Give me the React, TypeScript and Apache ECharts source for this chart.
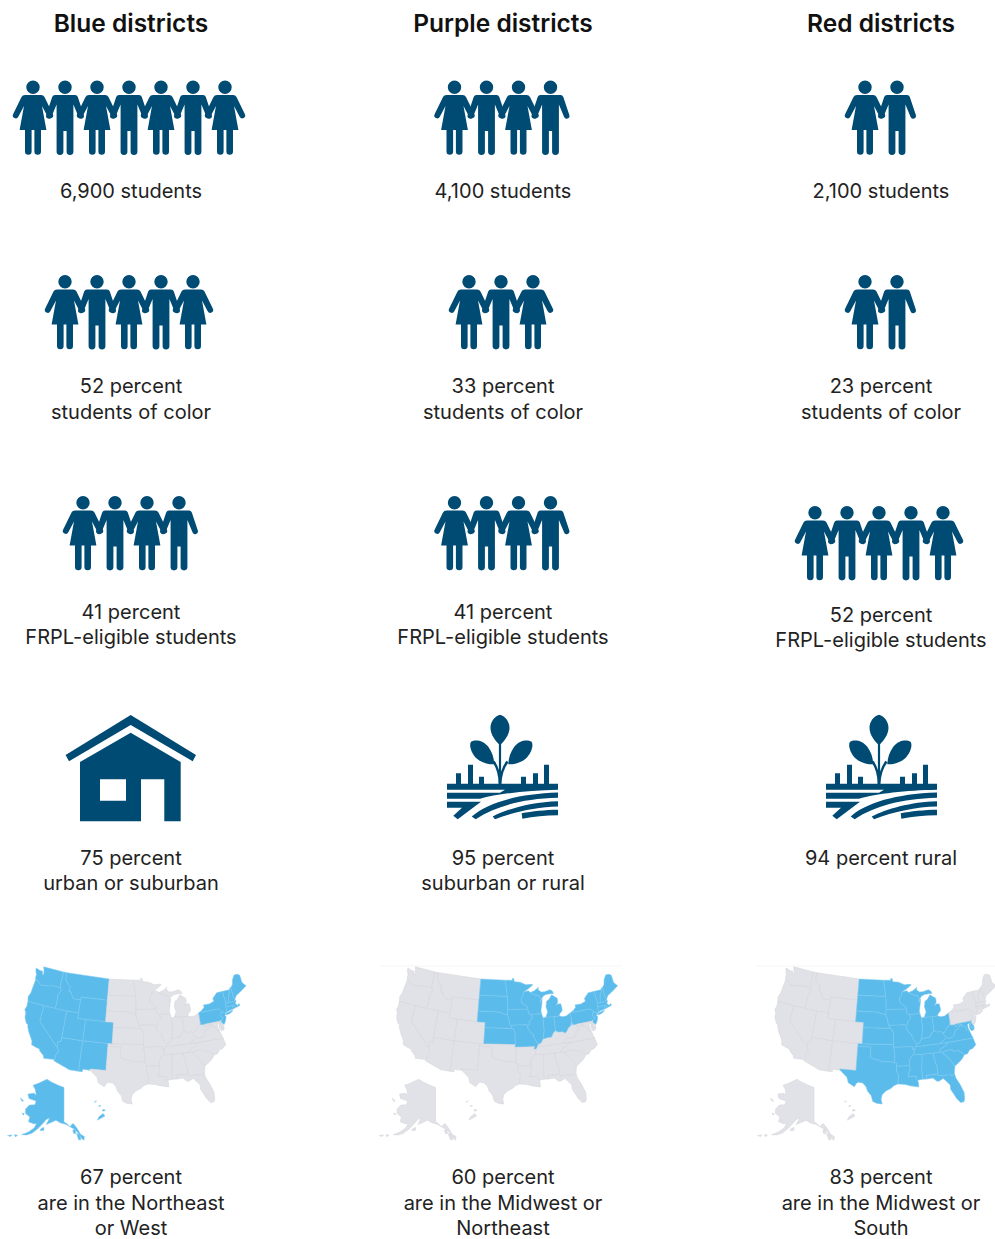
import React, { useEffect, useRef } from "react";
import * as echarts from "echarts";

const NAVY = "#004B74";
const MAP_BLUE = "#5BBCEC";
const MAP_GREY = "#E1E2E7";
const TEXT = "#222222";
const FONT = "Inter";

const columnTitles = ["Blue districts", "Purple districts", "Red districts"];
const studentCounts = [7, 4, 2];
const colorCounts = [5, 3, 2];
const frplCounts = [4, 4, 5];
const studentCaptions = ["6,900 students", "4,100 students", "2,100 students"];
const colorCaptions = ["52 percent\nstudents of color", "33 percent\nstudents of color", "23 percent\nstudents of color"];
const frplCaptions = ["41 percent\nFRPL-eligible students", "41 percent\nFRPL-eligible students", "52 percent\nFRPL-eligible students"];
const localeCaptions = ["75 percent\nurban or suburban", "95 percent\nsuburban or rural", "94 percent rural"];
const regionCaptions = ["67 percent\nare in the Northeast\nor West", "60 percent\nare in the Midwest or\nNortheast", "83 percent\nare in the Midwest or\nSouth"];

const northeast = ["PA", "NY", "NJ", "CT", "RI", "MA", "VT", "NH", "ME"];
const west = ["WA", "OR", "CA", "NV", "ID", "MT", "WY", "UT", "CO", "AZ", "NM", "AK", "HI"];
const midwest = ["ND", "SD", "NE", "KS", "MN", "IA", "MO", "WI", "IL", "MI", "IN", "OH"];
const south = ["TX", "OK", "AR", "LA", "MS", "AL", "TN", "KY", "WV", "VA", "NC", "SC", "GA", "FL", "MD", "DE"];
const highlighted = [[...northeast, ...west], [...midwest, ...northeast], [...midwest, ...south]];

type Ring = number[][];
const states: Record<string, Ring[]> = {
  WA: [[[-122.8,49],[-117.03,49],[-117.04,46.4],[-116.92,45.99],[-118.98,46],[-119.3,45.93],[-120.5,45.7],[-121.2,45.65],[-122.3,45.55],[-122.8,45.9],[-123.2,46.15],[-123.9,46.25],[-124.1,46.7],[-124.1,47.2],[-124.6,47.9],[-124.7,48.4],[-123.5,48.15],[-122.75,48.15],[-122.5,47.5],[-122.3,47.5],[-122.3,48],[-122.5,48.5]]],
  OR: [[[-123.9,46.25],[-123.2,46.15],[-122.8,45.9],[-122.3,45.55],[-121.2,45.65],[-120.5,45.7],[-119.3,45.93],[-118.98,46],[-116.92,45.99],[-116.47,45.6],[-116.85,45],[-117.2,44.4],[-117.03,44.2],[-117.03,42],[-120,42],[-124.2,42],[-124.5,42.8],[-124.1,43.7],[-124.05,44.8],[-123.95,45.6]]],
  CA: [[[-124.2,42],[-120,42],[-120,39],[-114.63,35],[-114.13,34.3],[-114.5,33.9],[-114.55,33.6],[-114.72,33.4],[-114.52,33],[-114.72,32.72],[-117.12,32.53],[-117.3,33],[-118.4,33.75],[-118.5,34.03],[-119.2,34.15],[-120.5,34.45],[-120.65,35.15],[-121.9,36.6],[-122.5,37.5],[-122.5,37.8],[-123,38],[-123.75,39],[-123.85,39.8],[-124.35,40.4],[-124.1,41]]],
  NV: [[[-120,42],[-114.04,42],[-114.04,37],[-114.04,36.2],[-114.74,36.1],[-114.63,35],[-120,39]]],
  ID: [[[-117.03,49],[-116.05,49],[-116.05,48],[-115.7,47.45],[-114.7,46.7],[-114.35,46.65],[-114.5,45.6],[-113.9,45.6],[-113.45,44.95],[-113,44.45],[-111.05,44.48],[-111.05,42],[-114.04,42],[-117.03,42],[-117.03,44.2],[-117.2,44.4],[-116.85,45],[-116.47,45.6],[-116.92,45.99],[-117.04,46.4]]],
  MT: [[[-116.05,49],[-104.05,49],[-104.05,45.94],[-104.05,45],[-111.05,45],[-111.05,44.48],[-113,44.45],[-113.45,44.95],[-113.9,45.6],[-114.5,45.6],[-114.35,46.65],[-114.7,46.7],[-115.7,47.45],[-116.05,48]]],
  WY: [[[-111.05,45],[-104.05,45],[-104.05,43],[-104.05,41],[-109.05,41],[-111.05,41],[-111.05,42],[-111.05,44.48]]],
  UT: [[[-114.04,42],[-111.05,42],[-111.05,41],[-109.05,41],[-109.05,37],[-114.04,37]]],
  CO: [[[-109.05,41],[-104.05,41],[-102.05,41],[-102.05,40],[-102.05,37],[-103,37],[-109.05,37]]],
  AZ: [[[-114.04,37],[-109.05,37],[-109.05,31.33],[-111.07,31.33],[-114.81,32.5],[-114.72,32.72],[-114.52,33],[-114.72,33.4],[-114.55,33.6],[-114.5,33.9],[-114.13,34.3],[-114.63,35],[-114.74,36.1],[-114.04,36.2]]],
  NM: [[[-109.05,37],[-103,37],[-103,36.5],[-103.04,32],[-106.62,32],[-106.53,31.78],[-108.2,31.78],[-108.2,31.33],[-109.05,31.33]]],
  ND: [[[-104.05,49],[-97.23,49],[-96.85,47.6],[-96.56,45.94],[-104.05,45.94]]],
  SD: [[[-104.05,45.94],[-96.56,45.94],[-96.45,45.3],[-96.45,43.5],[-96.5,42.5],[-97.9,42.8],[-98.5,43],[-104.05,43],[-104.05,45]]],
  NE: [[[-104.05,43],[-98.5,43],[-97.9,42.8],[-96.5,42.5],[-96.1,41.7],[-95.85,40.7],[-95.77,40.58],[-95.31,40],[-102.05,40],[-102.05,41],[-104.05,41]]],
  KS: [[[-102.05,40],[-95.31,40],[-94.9,39.8],[-94.61,39.1],[-94.62,37],[-102.05,37]]],
  OK: [[[-103,37],[-102.05,37],[-94.62,37],[-94.62,36.5],[-94.43,35.4],[-94.48,33.64],[-95.5,33.9],[-96.6,33.85],[-97.2,33.8],[-98.1,34.13],[-99.2,34.3],[-100,34.56],[-100,36.5],[-103,36.5]]],
  TX: [[[-103.04,36.5],[-100,36.5],[-100,34.56],[-99.2,34.3],[-98.1,34.13],[-97.2,33.8],[-96.6,33.85],[-95.5,33.9],[-94.48,33.64],[-94.04,33.55],[-94.04,33],[-94.04,31.99],[-93.55,31.2],[-93.7,30.5],[-93.84,29.7],[-94.7,29.4],[-95.3,28.9],[-96.4,28.4],[-97.2,27.7],[-97.4,26.8],[-97.15,25.95],[-98.2,26.05],[-99.1,26.4],[-99.5,27.5],[-100.3,28.3],[-100.65,29.1],[-101.4,29.77],[-102.3,29.88],[-102.7,29.7],[-103.15,28.98],[-104.5,29.6],[-104.9,30.6],[-106.53,31.78],[-106.62,32],[-103.04,32]]],
  MN: [[[-97.23,49],[-95.15,49],[-95.15,49.38],[-94.8,49.3],[-94.6,48.7],[-93,48.6],[-91.4,48.05],[-90,48.1],[-89.5,48],[-90.8,47.3],[-92.1,46.75],[-92.3,46.1],[-92.9,45.6],[-92.75,44.75],[-91.25,43.85],[-91.22,43.5],[-96.45,43.5],[-96.45,45.3],[-96.56,45.94],[-96.85,47.6]]],
  IA: [[[-96.45,43.5],[-91.22,43.5],[-91.1,42.7],[-90.64,42.5],[-90.15,41.8],[-91.05,41.2],[-91,40.7],[-91.42,40.38],[-91.73,40.61],[-95.77,40.58],[-95.85,40.7],[-96.1,41.7],[-96.5,42.5]]],
  MO: [[[-95.77,40.58],[-91.73,40.61],[-91.42,40.38],[-91.5,40],[-90.7,39],[-90.2,38.8],[-90.2,38.4],[-89.5,37.3],[-89.1,36.95],[-89.4,36.5],[-89.7,36],[-90.37,36],[-90.15,36.5],[-94.62,36.5],[-94.62,37],[-94.61,39.1],[-94.9,39.8],[-95.31,40]]],
  AR: [[[-94.62,36.5],[-90.15,36.5],[-90.37,36],[-89.7,36],[-90.1,35],[-90.6,34.7],[-91.1,33.9],[-91.17,33],[-94.04,33],[-94.04,33.55],[-94.48,33.64],[-94.43,35.4]]],
  LA: [[[-94.04,33],[-91.17,33],[-91,32.4],[-91.6,31],[-89.73,31],[-89.85,30.65],[-89.55,30.2],[-89.4,29.8],[-89.4,28.95],[-90.2,29.1],[-91.3,29.3],[-92.2,29.55],[-93.84,29.7],[-93.7,30.5],[-93.55,31.2],[-94.04,31.99]]],
  MS: [[[-90.1,35],[-88.2,35],[-88.1,34.9],[-88.47,31.9],[-88.4,30.35],[-89.55,30.2],[-89.85,30.65],[-89.73,31],[-91.6,31],[-91,32.4],[-91.17,33],[-91.1,33.9],[-90.6,34.7]]],
  AL: [[[-88.2,35],[-85.6,35],[-85.2,32.9],[-85,32.3],[-85.05,31],[-87.6,31],[-87.5,30.3],[-88.4,30.35],[-88.47,31.9],[-88.1,34.9]]],
  GA: [[[-85.6,35],[-84.32,35],[-83.1,35],[-83.35,34.7],[-82.75,34.3],[-81.9,33.4],[-81.4,32.6],[-81.1,32.05],[-81.45,30.72],[-82.05,30.36],[-82.2,30.57],[-84.86,30.7],[-85.05,31],[-85,32.3],[-85.2,32.9]]],
  FL: [[[-87.6,31],[-85.05,31],[-84.86,30.7],[-82.2,30.57],[-82.05,30.36],[-81.45,30.72],[-81.3,29.9],[-80.6,28.5],[-80.05,26.9],[-80.15,25.75],[-80.4,25.2],[-81.1,25.15],[-81.8,26.1],[-82.2,26.9],[-82.75,27.9],[-82.7,28.7],[-83.4,29.5],[-84,30.1],[-84.9,29.7],[-85.4,29.7],[-86.2,30.4],[-87.5,30.3]]],
  SC: [[[-83.35,34.7],[-83.1,35],[-82.3,35.2],[-81.05,35.15],[-80.8,34.82],[-79.67,34.8],[-78.55,33.86],[-79.2,33.2],[-79.9,32.7],[-81.1,32.05],[-81.4,32.6],[-81.9,33.4],[-82.75,34.3]]],
  NC: [[[-84.32,35],[-83.1,35],[-82.3,35.2],[-81.05,35.15],[-80.8,34.82],[-79.67,34.8],[-78.55,33.86],[-77.9,33.9],[-77.1,34.6],[-76.5,34.65],[-75.55,35.25],[-75.85,36.55],[-81.68,36.59],[-82.6,36],[-83.7,35.6]]],
  TN: [[[-90.1,35],[-88.2,35],[-85.6,35],[-84.32,35],[-83.7,35.6],[-82.6,36],[-81.68,36.59],[-83.68,36.6],[-88.07,36.5],[-89.4,36.5],[-89.7,36]]],
  KY: [[[-89.4,36.5],[-88.07,36.5],[-83.68,36.6],[-82,37.53],[-82.6,38.2],[-82.6,38.42],[-83,38.73],[-84.2,38.8],[-84.8,39.1],[-85.4,38.73],[-85.9,38],[-86.8,37.98],[-88,37.8],[-88.5,37.1],[-89.1,36.95]]],
  VA: [[[-83.68,36.6],[-81.68,36.59],[-75.85,36.55],[-76,37],[-76.3,37.9],[-76.3,38.05],[-77,38.3],[-77.04,38.8],[-77.5,39.1],[-77.83,39.13],[-78.35,39.4],[-78.87,38.77],[-79.65,38.59],[-80.3,37.5],[-81.35,37.3],[-82,37.53]]],
  WV: [[[-82.6,38.42],[-82.6,38.2],[-82,37.53],[-81.35,37.3],[-80.3,37.5],[-79.65,38.59],[-78.87,38.77],[-78.35,39.4],[-77.83,39.13],[-77.72,39.32],[-78.4,39.62],[-79.48,39.2],[-79.48,39.72],[-80.52,39.72],[-80.52,40.64],[-80.85,39.7],[-81.7,39.2],[-82.2,38.6]]],
  OH: [[[-84.8,41.7],[-83.45,41.73],[-82.7,41.5],[-81.7,41.5],[-80.52,41.98],[-80.52,40.64],[-80.85,39.7],[-81.7,39.2],[-82.2,38.6],[-82.6,38.42],[-83,38.73],[-84.2,38.8],[-84.8,39.1]]],
  IN: [[[-87.53,41.72],[-87,41.7],[-86.8,41.76],[-84.8,41.7],[-84.8,39.1],[-85.4,38.73],[-85.9,38],[-86.8,37.98],[-88,37.8],[-87.53,39.35]]],
  IL: [[[-90.64,42.5],[-87.8,42.5],[-87.53,41.72],[-87.53,39.35],[-88,37.8],[-88.5,37.1],[-89.1,36.95],[-89.5,37.3],[-90.2,38.4],[-90.2,38.8],[-90.7,39],[-91.5,40],[-91.42,40.38],[-91,40.7],[-91.05,41.2],[-90.15,41.8]]],
  MI: [[[-86.8,41.76],[-84.8,41.7],[-83.45,41.73],[-83.2,42.1],[-82.5,42.6],[-82.45,43],[-82.6,43.9],[-83.4,43.95],[-83.9,43.65],[-83.3,44.3],[-83.3,45],[-84.7,45.78],[-85.5,45],[-86.2,44.7],[-86.5,43.7],[-86.2,42.7]],
    [[-90.4,46.55],[-89,46],[-88.1,45.9],[-87.8,45.35],[-87.6,45.1],[-87,45.7],[-86.2,45.95],[-85,46],[-84.1,46],[-84.4,46.5],[-85,46.77],[-86.5,46.5],[-87.4,46.5],[-88.2,47],[-88,47.45],[-89.2,46.85]]],
  WI: [[[-92.1,46.75],[-90.8,46.9],[-90.4,46.55],[-89,46],[-88.1,45.9],[-87.8,45.35],[-87.6,45.1],[-88,44.55],[-87.3,45.2],[-87.5,44.3],[-87.9,43],[-87.8,42.5],[-90.64,42.5],[-91.1,42.7],[-91.22,43.5],[-91.25,43.85],[-92.75,44.75],[-92.9,45.6],[-92.3,46.1]]],
  PA: [[[-80.52,41.98],[-79.76,42.27],[-79.76,42],[-75.35,42],[-75.05,41.6],[-74.7,41.36],[-75.1,41],[-75.2,40.65],[-74.75,40.2],[-75.4,39.8],[-75.79,39.72],[-79.48,39.72],[-80.52,39.72],[-80.52,40.64]]],
  NY: [[[-79.76,42.27],[-78.9,42.85],[-79.05,43.27],[-77.5,43.25],[-76.2,43.55],[-76.3,44.1],[-75,45],[-74.7,45],[-73.35,45],[-73.4,44],[-73.25,43.6],[-73.27,42.75],[-73.5,42.05],[-73.5,41.3],[-73.65,41],[-73.9,40.95],[-74.7,41.36],[-75.05,41.6],[-75.35,42],[-79.76,42]],
    [[-74,40.6],[-73.7,40.9],[-72.3,41.15],[-72,41.05],[-73,40.65]]],
  NJ: [[[-73.9,40.95],[-74.7,41.36],[-75.1,41],[-75.2,40.65],[-74.75,40.2],[-75.4,39.8],[-75.55,39.5],[-74.9,38.95],[-74.4,39.5],[-74,40.3],[-74.25,40.5]]],
  DE: [[[-75.79,39.72],[-75.4,39.8],[-75.55,39.5],[-75.1,38.8],[-75.05,38.45],[-75.7,38.46]]],
  MD: [[[-79.48,39.72],[-75.79,39.72],[-75.7,38.46],[-75.05,38.45],[-75.25,38],[-75.9,37.95],[-76.2,38.6],[-76,39.4],[-76.5,39.2],[-76.5,38.5],[-76.3,38.05],[-77,38.3],[-77.04,38.8],[-77.5,39.1],[-77.83,39.13],[-77.72,39.32],[-78.4,39.62],[-79.48,39.2]]],
  CT: [[[-73.5,42.05],[-71.8,42.02],[-71.8,41.35],[-72.9,41.25],[-73.65,41],[-73.5,41.3]]],
  RI: [[[-71.8,42.02],[-71.38,42.02],[-71.15,41.5],[-71.8,41.35]]],
  MA: [[[-73.27,42.75],[-72.46,42.73],[-71.3,42.7],[-70.85,42.88],[-70.6,42.65],[-71,42.3],[-70.55,41.8],[-70.05,42.05],[-69.95,41.7],[-70.65,41.55],[-71.15,41.5],[-71.38,42.02],[-71.8,42.02],[-73.5,42.05]]],
  VT: [[[-73.35,45],[-71.5,45],[-71.6,44.5],[-72.05,44.1],[-72.45,43.1],[-72.46,42.73],[-73.27,42.75],[-73.25,43.6],[-73.4,44]]],
  NH: [[[-71.5,45],[-71.3,45.3],[-71,45.3],[-70.98,43.4],[-70.7,43.07],[-70.85,42.88],[-71.3,42.7],[-72.46,42.73],[-72.45,43.1],[-72.05,44.1],[-71.6,44.5]]],
  ME: [[[-71,45.3],[-70.4,45.8],[-70,46.7],[-69.2,47.45],[-68.3,47.35],[-67.8,47.07],[-67.8,45.7],[-67.45,45.3],[-67,44.85],[-68.5,44.25],[-69.1,44],[-70.2,43.6],[-70.7,43.07],[-70.98,43.4]]],
};
const alaskaRings: Ring[] = [
  [[-141,69.65],[-141,60.3],[-139.5,59.95],[-137.5,58.9],[-136.5,59.5],[-135.4,59.75],[-133.5,58.4],[-131.8,56.6],[-130,55.9],[-130.5,54.9],[-131.8,55.6],[-133,57],[-135,58.2],[-138,59.1],[-140,59.7],[-143,60],[-146,60.7],[-148.5,60],[-151.5,59.2],[-150,61.1],[-152,60.5],[-153.5,59.4],[-156,57.5],[-158.5,56],[-161,55.1],[-163.5,54.7],[-160.5,56],[-158,57.5],[-157.2,58.8],[-159,58.6],[-162,58.7],[-162,60],[-165.2,60.5],[-166,61.6],[-164.5,63],[-161,63.6],[-161,64.7],[-166.2,64.6],[-168,65.6],[-164,66.5],[-162,66.2],[-164,67.6],[-166.7,68.4],[-163,69.5],[-156.7,71.3],[-152,70.8],[-146,70.2]],
  [[-154.5,57.3],[-152.4,57.5],[-152.6,58.3],[-154,57.9]],
  [[-167.2,60.2],[-165.8,60.3],[-166,59.8]],
  [[-171.7,63.7],[-169,63.4],[-170,63.1]],
  [[-136,58],[-134.6,58.2],[-134.4,57],[-135.6,57.1]],
  [[-134,57],[-132.5,56.6],[-132,55.2],[-133.2,55.2]],
  [[-167,53.9],[-165.5,54.2],[-166,53.5]],
  [[-170,52.9],[-168,53.6],[-168.5,53]],
];
const hawaiiRings: Ring[] = [
  [[-159.6,22.15],[-159.4,22.2],[-159.4,22],[-159.55,21.95]],
  [[-158.1,21.55],[-157.8,21.55],[-157.8,21.35],[-158.05,21.35]],
  [[-156.7,20.95],[-156.2,20.9],[-156.15,20.7],[-156.5,20.65]],
  [[-155.9,20.25],[-155.1,19.85],[-155.6,18.95],[-156,19.6]],
];

const PX_PER_RAD = 307;
const mapAnchors = [[137.8, 1042], [509.4, 1042], [887.8, 1042]];
const AK_SCALE_X = 0.62;
const AK_SCALE_Y = 0.69;

const conic = (a: number, b: number, lam0: number, lat0: number) => {
  const r = Math.PI / 180;
  const n = (Math.sin(a * r) + Math.sin(b * r)) / 2;
  const C = Math.cos(a * r) ** 2 + 2 * n * Math.sin(a * r);
  const rho0 = Math.sqrt(C - 2 * n * Math.sin(lat0 * r)) / n;
  return (lon: number, lat: number) => {
    const th = n * (lon - lam0) * r;
    const rho = Math.sqrt(C - 2 * n * Math.sin(lat * r)) / n;
    return [rho * Math.sin(th), rho0 - rho * Math.cos(th)];
  };
};
const albers48 = conic(29.5, 45.5, -96, 37.5);
const albersAK = conic(55, 65, -141, 60.3);
const toAK = ([lo, la]: number[]) => {
  const [x, y] = albersAK(lo, la);
  return [x * AK_SCALE_X - 73.8 / PX_PER_RAD, y * AK_SCALE_Y - 80 / PX_PER_RAD];
};
const toHI = ([lo, la]: number[]) => [
  (-36.3 + 5 * (lo + 155.5) + 5.6 * (la - 19.6)) / PX_PER_RAD,
  -(75 + 0.75 * (lo + 155.5) - 5 * (la - 19.6)) / PX_PER_RAD,
];

const feature = (name: string, rings: Ring[]) => ({
  type: "Feature",
  properties: { name },
  geometry: { type: "MultiPolygon", coordinates: rings.map((r) => [r]) },
});
const features = [
  ...Object.keys(states).map((k) => feature(k, states[k].map((r) => r.map(([a, b]) => albers48(a, b))))),
  feature("AK", alaskaRings.map((r) => r.map(toAK))),
  feature("HI", hawaiiRings.map((r) => r.map(toHI))),
];
let minX = Infinity, maxX = -Infinity, minY = Infinity, maxY = -Infinity;
features.forEach((f) =>
  f.geometry.coordinates.forEach((p) =>
    p[0].forEach(([x, y]) => {
      minX = Math.min(minX, x); maxX = Math.max(maxX, x);
      minY = Math.min(minY, y); maxY = Math.max(maxY, y);
    })
  )
);
echarts.registerMap("USA", { type: "FeatureCollection", features } as any);

const head = "M-6.7,6.7 A6.7,6.7 0 1 1 6.7,6.7 A6.7,6.7 0 1 1 -6.7,6.7 Z ";
const womanPath = "path://" + head + "M-8,14.5 H8 Q10.5,14.5 11.5,16.5 L19.8,33.5 A2.9,2.9 0 0 1 14.7,36.3 L9,25.5 L13.4,49.5 H8 V71 A3.3,3.3 0 0 1 1.4,71 V49.5 H-1.4 V71 A3.3,3.3 0 0 1 -8,71 V49.5 H-13.4 L-9,25.5 L-14.7,36.3 A2.9,2.9 0 0 1 -19.8,33.5 L-11.5,16.5 Q-10.5,14.5 -8,14.5 Z";
const manPath = "path://" + head + "M-10,14.5 H10 Q12,14.5 12.8,16.5 L18.8,34.5 A2.8,2.8 0 0 1 13.5,36.3 L8.4,24 V71 A3.3,3.3 0 0 1 1.6,71 V50.5 H-1.6 V71 A3.3,3.3 0 0 1 -8.4,71 V24 L-13.5,36.3 A2.8,2.8 0 0 1 -18.8,34.5 L-12.8,16.5 Q-12,14.5 -10,14.5 Z";
const housePath = "path://M65.6,755 L130.7,715 L196,755 L192.7,761.3 L130.7,725 L69,761.3 Z M130.7,732.7 L180.7,762 V821.3 H164.3 V779.3 H141 V821.3 H80 V762 Z M100,779.3 V800.7 H126 V779.3 Z";
const bar = (x: number, y: number) => `M${x},${y} H${x + 5} V69 H${x} Z `;
const farmPath = "path://M0,69 H111 V75 C80,75.5 50,79 33,84 H0 V78 H53 L58,75 H0 Z " +
  "M0,87 H34 L10.7,104.3 L6.3,100.8 L15,93 H0 Z " +
  "M24.7,101.7 C40,88 70,79 111,77.7 V83 C75,84 50,91 28.7,104.3 Z " +
  "M45.7,101.7 C60,94 85,87 111,86.3 V91.7 C90,92 68,97 48,104.3 Z " +
  "M74.7,98.5 C85,96.5 98,95.2 111,95 V100.3 C98,100.5 87,101.5 75.3,104 Z " +
  bar(9, 58.3) + bar(21, 50) + bar(32, 62) + bar(74, 62) + bar(86, 58.3) + bar(97, 50) +
  "M53,0 C58.5,1.5 62.5,7 62.5,13 C62.5,20 57.5,26 54.1,29.5 V69 H51.9 V29.5 C48.5,26 43.5,20 43.5,13 C43.5,7 47.5,1.5 53,0 Z " +
  "M24,27 C28,24.5 36,25 41.3,32 C45,37 47,43 47.3,49.3 C43,50 34,48 29.7,43.7 C25,39 21.5,31 24,27 Z " +
  "M84.6,27 C87.1,31 83.6,39 78.9,43.7 C74.6,48 65.6,50 61.3,49.3 C61.6,43 63.6,37 67.3,32 C72.6,25 80.6,24.5 84.6,27 Z " +
  "M45.5,47.5 L47.5,46 Q53.5,54 54,69 H51.5 Q51.5,56 45.5,47.5 Z " +
  "M61.5,47.5 Q55,56 54.5,69 H52 Q53,54 59.5,46 Z";

const SPACING = 32;
const personRows = [
  { counts: studentCounts, centers: [129, 502.5, 881], top: [80.5, 80.5, 80.5] },
  { counts: colorCounts, centers: [129, 501, 881], top: [275, 275, 275] },
  { counts: frplCounts, centers: [131, 502.5, 879], top: [496, 496, 506] },
];
const women: number[][] = [];
const men: number[][] = [];
personRows.forEach((row) =>
  row.counts.forEach((n, c) => {
    for (let i = 0; i < n; i++) {
      const pt = [row.centers[c] + (i - (n - 1) / 2) * SPACING, row.top[c] + 37.15];
      (i % 2 === 0 ? women : men).push(pt);
    }
  })
);

const textCenters = [131, 503, 881];
const captionRows = [
  { caption: studentCaptions, y: [191, 191, 191], line: 25.5 },
  { caption: colorCaptions, y: [386, 386, 386], line: 26 },
  { caption: frplCaptions, y: [612, 612, 615], line: 25 },
  { caption: localeCaptions, y: [858, 858, 858], line: 25 },
  { caption: regionCaptions, y: [1177, 1177, 1177], line: 25.5 },
];
const texts: any[] = [];
columnTitles.forEach((t, c) =>
  texts.push({
    type: "text", x: textCenters[c], y: 23, silent: true,
    style: { text: t, fontFamily: FONT, fontSize: 24.5, fontWeight: 600, fill: "#111", textAlign: "center", textVerticalAlign: "middle" },
  })
);
captionRows.forEach((row) =>
  row.caption.forEach((cap, c) =>
    cap.split("\n").forEach((line, i) =>
      texts.push({
        type: "text", x: textCenters[c], y: row.y[c] + i * row.line, silent: true,
        style: { text: line, fontFamily: FONT, fontSize: 20, fontWeight: 400, fill: TEXT, textAlign: "center", textVerticalAlign: "middle" },
      })
    )
  )
);
const hairlines = [[380, 622], [757, 995]];
hairlines.forEach(([a, b]) =>
  texts.push({ type: "line", silent: true, shape: { x1: a, y1: 966, x2: b, y2: 966 }, style: { stroke: "#F5F5F5", lineWidth: 1 } })
);

const scatter = (symbol: string, size: number[], data: number[][]) => ({
  type: "scatter", symbol, symbolSize: size, data, silent: true, clip: false,
  itemStyle: { color: NAVY, opacity: 1 },
});

export default function App() {
  const ref = useRef<HTMLDivElement>(null);
  useEffect(() => {
    const chart = echarts.init(ref.current!, undefined, { renderer: "svg" });
    chart.setOption({
      animation: false,
      backgroundColor: "#fff",
      grid: { left: 0, right: 0, top: 0, bottom: 0 },
      xAxis: { type: "value", min: 0, max: 995, show: false },
      yAxis: { type: "value", min: 0, max: 1239, inverse: true, show: false },
      geo: highlighted.map((list, c) => ({
        map: "USA",
        silent: true,
        roam: false,
        aspectScale: 1,
        layoutSize: (maxX - minX) * PX_PER_RAD,
        layoutCenter: [
          mapAnchors[c][0] + ((minX + maxX) / 2) * PX_PER_RAD,
          mapAnchors[c][1] - ((minY + maxY) / 2) * PX_PER_RAD,
        ],
        label: { show: false },
        emphasis: { disabled: true },
        itemStyle: { areaColor: MAP_GREY, borderColor: "#D2D3D9", borderWidth: 0.5 },
        regions: list.map((name) => ({
          name,
          itemStyle: { areaColor: MAP_BLUE, borderColor: "#7CC9EF", borderWidth: 0.5 },
        })),
      })),
      series: [
        scatter(womanPath, [40.3, 74.3], women),
        scatter(manPath, [37.9, 74.3], men),
        scatter(housePath, [130.4, 106.3], [[130.8, 768.15]]),
        scatter(farmPath, [111, 104.3], [[502.5, 767], [881.5, 767]]),
      ],
      graphic: { elements: texts },
    });
    return () => chart.dispose();
  }, []);
  return <div ref={ref} style={{ position: "absolute", left: 0, top: 0, width: 995, height: 1239 }} />;
}
